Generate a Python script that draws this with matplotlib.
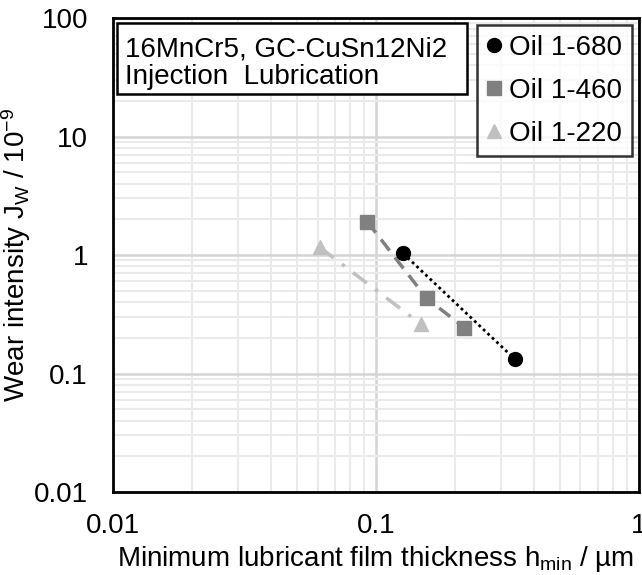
import matplotlib
matplotlib.use("Agg")
import matplotlib.pyplot as plt
from matplotlib.patches import Rectangle
from matplotlib.ticker import LogLocator, FixedLocator, NullFormatter

plt.rcParams['font.family'] = ['Liberation Sans', 'DejaVu Sans']
plt.rcParams['mathtext.default'] = 'regular'

# data (log-log)
h_680 = [0.127, 0.338]
j_680 = [1.03, 0.132]
h_460 = [0.0927, 0.156, 0.217]
j_460 = [1.91, 0.431, 0.244]
h_220 = [0.0612, 0.148]
j_220 = [1.16, 0.262]

x_ticks = [0.01, 0.1, 1]
x_labels = ["0.01", "0.1", "1"]
y_ticks = [0.01, 0.1, 1, 10, 100]
y_labels = ["0.01", "0.1", "1", "10", "100"]

fig = plt.figure(figsize=(6.42, 5.75), dpi=100)
ax = fig.add_axes([0.176, 0.1443, 0.819, 0.8244])
ax.set_xscale("log")
ax.set_yscale("log")
ax.set_xlim(0.01, 1)
ax.set_ylim(0.01, 100)

# grid
ax.xaxis.set_minor_locator(LogLocator(base=10, subs=range(2, 10)))
ax.yaxis.set_minor_locator(LogLocator(base=10, subs=range(2, 10)))
ax.xaxis.set_minor_formatter(NullFormatter())
ax.yaxis.set_minor_formatter(NullFormatter())
ax.grid(which="minor", color="#eaeaea", linewidth=1.5)
ax.grid(which="major", color="#d4d4d4", linewidth=1.8)
ax.set_axisbelow(True)

ax.plot(h_680, j_680, color="black", linestyle=(0, (1, 1.2)), linewidth=2,
        marker="o", markersize=10, label="Oil 1-680", zorder=5)
ax.plot(h_460, j_460, color="#808080", linestyle=(0, (4, 2.5)), linewidth=2.5,
        marker="s", markersize=10, label="Oil 1-460", zorder=4)
ax.plot(h_220, j_220, color="#c0c0c0", linestyle=(0, (5, 3, 1, 3)), linewidth=2.5,
        marker="^", markersize=10, label="Oil 1-220", zorder=3)

ax.xaxis.set_major_locator(FixedLocator(x_ticks))
ax.yaxis.set_major_locator(FixedLocator(y_ticks))
ax.set_xticklabels(x_labels)
ax.set_yticklabels(y_labels)
ax.tick_params(which="both", length=0, labelsize=20)
ax.tick_params(axis="y", pad=18)
ax.tick_params(axis="x", pad=15)

for s in ax.spines.values():
    s.set_linewidth(2)
    s.set_color("black")

ax.set_xlabel("Minimum lubricant film thickness h$_{min}$ / µm", fontsize=20, labelpad=4)
ax.set_ylabel("Wear intensity J$_W$ / 10$^{-9}$", fontsize=20)
ax.yaxis.set_label_coords(-0.152, 0.5)

# info box in the upper left
ax.add_patch(Rectangle((0.0076, 0.8397), 0.6654, 0.1498, transform=ax.transAxes,
                       facecolor="white", edgecolor="black", linewidth=1.8, zorder=6))
ax.text(0.0228, 0.961, "16MnCr5, GC-CuSn12Ni2\nInjection  Lubrication",
        transform=ax.transAxes, fontsize=20, va="top", ha="left",
        linespacing=1.08, zorder=7)

leg = ax.legend(loc="upper right", fontsize=20, frameon=True, fancybox=False,
                handlelength=0.5, handletextpad=0.3, borderpad=0.35,
                labelspacing=0.61, borderaxespad=0.25, markerscale=1)
leg.get_frame().set_edgecolor("black")
leg.get_frame().set_linewidth(1.8)
leg.set_zorder(8)
for line in leg.get_lines():
    line.set_linestyle("none")

fig.savefig("out.png", dpi=100)
